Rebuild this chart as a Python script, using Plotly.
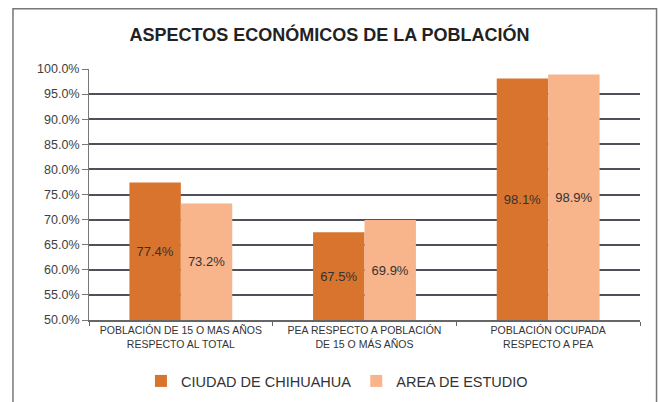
import plotly.graph_objects as go

# Data
categories = [
    "POBLACIÓN DE 15 O MAS AÑOS<br>RESPECTO AL TOTAL",
    "PEA RESPECTO A POBLACIÓN<br>DE 15 O MÁS AÑOS",
    "POBLACIÓN OCUPADA<br>RESPECTO A PEA",
]
chihuahua = [77.4, 67.5, 98.1]
area_estudio = [73.2, 69.9, 98.9]
axis_floor = 50

font_family = "Liberation Sans Narrow, Arial Narrow, Liberation Sans, Arial"

fig = go.Figure()

# Bars start at the 50% axis floor so the labels sit in the visible part
for name, values, color in [
    ("CIUDAD DE CHIHUAHUA", chihuahua, "#D8742E"),
    ("AREA DE ESTUDIO", area_estudio, "#F8B48A"),
]:
    fig.add_trace(go.Bar(
        x=categories,
        y=[v - axis_floor for v in values],
        base=axis_floor,
        name=name,
        marker=dict(color=color, line=dict(width=0)),
        text=[f"{v:.1f}%" for v in values],
        textposition="inside", insidetextanchor="middle",
        textfont=dict(color="#333333", size=13, family=font_family),
        hovertemplate="%{x}<br>%{text}<extra></extra>",
    ))

fig.update_layout(
    width=659, height=402,
    margin=dict(l=89, r=19, t=69, b=82, autoexpand=False),
    paper_bgcolor="white", plot_bgcolor="white",
    font=dict(family=font_family, color="#404040", size=11),
    title=dict(
        text="<b>ASPECTOS ECONÓMICOS DE LA POBLACIÓN</b>",
        x=0.5, xanchor="center", y=0.913, yanchor="middle",
        font=dict(size=18, color="#222222", family=font_family),
    ),
    barmode="group", bargap=0.44, bargroupgap=0,
    showlegend=True,
    legend=dict(
        orientation="h", x=0.45, xanchor="center",
        y=-0.243, yanchor="middle",
        font=dict(size=14.5, color="#333333"),
        traceorder="normal",
    ),
)

fig.update_yaxes(
    range=[50, 100], dtick=5, ticksuffix="%", tickformat=".1f",
    showgrid=True, gridcolor="#50505a", gridwidth=1.5,
    showline=True, linecolor="#777777", linewidth=1,
    ticks="outside", ticklen=6, tickcolor="#777777",
    tickfont=dict(size=12.5, color="#404040"),
    zeroline=False, automargin=False,
)
fig.update_xaxes(
    showline=True, linecolor="#666666", linewidth=1.5,
    ticks="outside", tickson="boundaries", ticklen=4, tickcolor="#666666",
    tickfont=dict(size=10.5, color="#333333"),
    showgrid=False, automargin=False,
)

# Outer chart border
fig.add_shape(
    type="rect", xref="paper", yref="paper",
    x0=-0.138, x1=1.03, y0=-0.33, y1=1.24,
    line=dict(color="#777777", width=1.5), fillcolor="rgba(0,0,0,0)",
    layer="below",
)

# Remove the default page margin so the figure fills the window.
fig.write_html(
    "out.html",
    config={"displayModeBar": False},
    post_script="document.body.style.margin='0';",
)
